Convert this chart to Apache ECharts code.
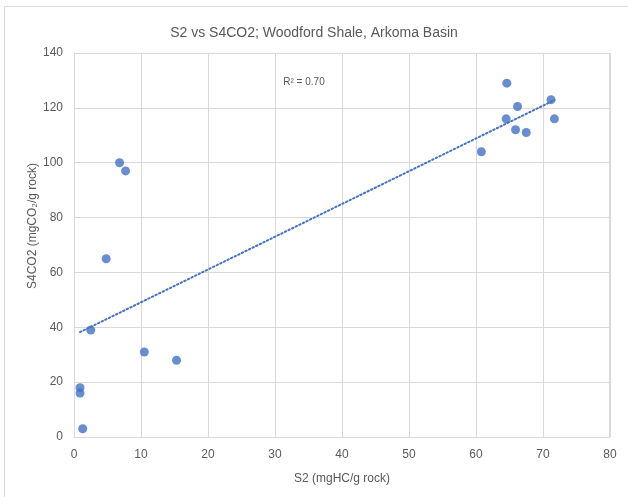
<!DOCTYPE html>
<html>
<head>
<meta charset="utf-8">
<script src="https://cdn.jsdelivr.net/npm/echarts@6/dist/echarts.min.js"></script>
<style>
  html, body { margin: 0; padding: 0; background: #ffffff; }
  #chart { width: 628px; height: 497px; }
</style>
</head>
<body>
<div id="chart"></div>
<script>
// S2 (mgHC/g rock) and S4CO2 (mgCO2/g rock) per sample
const s2Values = [6.8, 7.7, 4.8, 2.5, 10.5, 15.3, 0.9, 0.9, 1.3,
                  64.6, 66.2, 64.5, 71.2, 71.7, 65.9, 67.5, 60.8];
const s4co2Values = [100, 97, 65, 39, 31, 28, 18, 16, 3,
                     129, 120.5, 116, 123, 116, 112, 111, 104];

const xTicks = [0, 10, 20, 30, 40, 50, 60, 70, 80];
const yTicks = [0, 20, 40, 60, 80, 100, 120, 140];

const titleText = 'S2 vs S4CO2; Woodford Shale, Arkoma Basin';
const xAxisTitle = 'S2 (mgHC/g rock)';
const yAxisTitle = 'S4CO2 (mgCO\u2082/g rock)';

// Least-squares linear fit for the trendline and its R²
function linearFit(xs, ys) {
  const n = xs.length;
  const mx = xs.reduce((a, b) => a + b, 0) / n;
  const my = ys.reduce((a, b) => a + b, 0) / n;
  let sxy = 0, sxx = 0, syy = 0;
  for (let i = 0; i < n; i++) {
    sxy += (xs[i] - mx) * (ys[i] - my);
    sxx += (xs[i] - mx) * (xs[i] - mx);
    syy += (ys[i] - my) * (ys[i] - my);
  }
  const slope = sxy / sxx;
  return { slope, intercept: my - slope * mx, r2: (sxy * sxy) / (sxx * syy) };
}

const fit = linearFit(s2Values, s4co2Values);
const xMin = Math.min(...s2Values);
const xMax = Math.max(...s2Values);
const trendData = [
  [xMin, fit.intercept + fit.slope * xMin],
  [xMax, fit.intercept + fit.slope * xMax]
];
const points = s2Values.map((x, i) => [x, s4co2Values[i]]);

const textColor = '#595959';
const gridColor = '#d9d9d9';
const fontFamily = '"Liberation Sans", "Noto Sans", sans-serif';

const chart = echarts.init(document.getElementById('chart'), null, { renderer: 'canvas' });
chart.setOption({
  backgroundColor: '#ffffff',
  animation: false,
  title: {
    text: titleText,
    left: 'center',
    top: 21,
    textStyle: { color: textColor, fontSize: 14, fontWeight: 'normal', fontFamily }
  },
  grid: { left: 74, right: 18, top: 53, bottom: 60, containLabel: false },
  xAxis: {
    type: 'value',
    min: xTicks[0],
    max: xTicks[xTicks.length - 1],
    interval: xTicks[1] - xTicks[0],
    name: xAxisTitle,
    nameLocation: 'middle',
    nameGap: 36,
    nameTextStyle: { color: textColor, fontSize: 12, fontFamily },
    axisLine: { show: true, lineStyle: { color: gridColor, width: 1 } },
    axisTick: { show: false },
    axisLabel: { color: textColor, fontSize: 12, fontFamily, margin: 12 },
    splitLine: { show: true, lineStyle: { color: gridColor, width: 1 } }
  },
  yAxis: {
    type: 'value',
    min: yTicks[0],
    max: yTicks[yTicks.length - 1],
    interval: yTicks[1] - yTicks[0],
    axisLine: { show: true, lineStyle: { color: gridColor, width: 1 } },
    axisTick: { show: false },
    axisLabel: { color: textColor, fontSize: 12, fontFamily, margin: 11 },
    splitLine: { show: true, lineStyle: { color: gridColor, width: 1 } }
  },
  graphic: [
    // outer chart frame (left and top edges)
    { type: 'line', silent: true, shape: { x1: 4.5, y1: 6.5, x2: 4.5, y2: 497 },
      style: { stroke: gridColor, lineWidth: 1 } },
    { type: 'line', silent: true, shape: { x1: 4.5, y1: 6.5, x2: 628, y2: 6.5 },
      style: { stroke: gridColor, lineWidth: 1 } },
    // right edge of the plot area
    { type: 'line', silent: true, shape: { x1: 609.5, y1: 53, x2: 609.5, y2: 437 },
      style: { stroke: gridColor, lineWidth: 1 } },
    {
      type: 'text', silent: true, x: 33, y: 226, rotation: Math.PI / 2,
      style: { text: yAxisTitle, fill: textColor, fontSize: 12, fontFamily,
               textAlign: 'center', textVerticalAlign: 'middle' }
    },
    {
      type: 'text', silent: true, x: 304, y: 82,
      style: { text: 'R\u00b2 = ' + fit.r2.toFixed(2), fill: textColor, fontSize: 10, fontFamily,
               textAlign: 'center', textVerticalAlign: 'middle' }
    }
  ],
  series: [
    {
      type: 'line',
      data: trendData,
      showSymbol: false,
      symbol: 'none',
      lineStyle: { color: '#4472C4', width: 2, type: [1.5, 2.5], cap: 'round' },
      z: 2
    },
    {
      type: 'scatter',
      data: points,
      symbol: 'circle',
      symbolSize: 9,
      itemStyle: { color: '#4472C4' },
      z: 3
    }
  ]
});
</script>
</body>
</html>
